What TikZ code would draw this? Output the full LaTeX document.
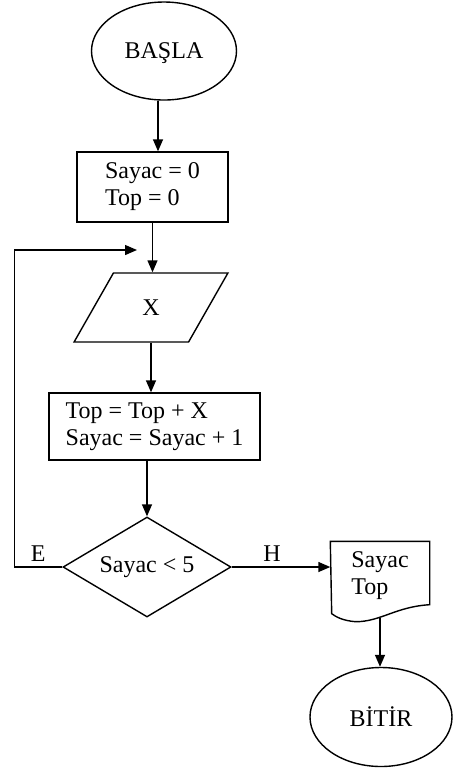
\documentclass[tikz,border=0pt]{standalone}
\usepackage{fontspec}
\setmainfont{Liberation Serif}
\usetikzlibrary{arrows.meta,positioning,shapes.geometric}

\begin{document}
\begin{tikzpicture}[
    x=0.5pt, y=-0.5pt,
    line width=0.7pt,
    font=\fontsize{12}{13.5}\selectfont,
    terminal/.style={ellipse, draw, inner sep=0pt, text depth=0pt},
    process/.style={rectangle, draw, align=left, inner sep=0pt},
    io/.style={trapezium, trapezium left angle=60, trapezium right angle=120,
        trapezium stretches=true, draw, inner sep=0pt},
    decision/.style={diamond, draw, aspect=1.68, inner sep=0pt,
        minimum width=84pt, minimum height=50pt},
    arrow/.style={-{Triangle[length=6pt,width=5pt]}}
]
    \useasboundingbox (0,0) rectangle (453,768);

    \node[terminal, minimum width=72.5pt, minimum height=49pt] (start) at (164,51) {BAŞLA};
    \node[process, minimum width=75.5pt, minimum height=35pt] (init) at (152.5,187) {Sayac = 0\\Top = 0};
    \node[io, minimum width=77pt, minimum height=34.5pt] (input) at (151,307.5) {X};
    \node[process, minimum width=105.5pt, minimum height=33.5pt] (update) at (154.5,426.5) {Top = Top + X\\Sayac = Sayac + 1};
    \node[decision] (check) at (147,567) {Sayac < 5};
    \node[align=left, inner sep=0pt, minimum width=49pt, minimum height=28pt] (result) at (380,576) {Sayac\\Top};
    \node[terminal, minimum width=71pt, minimum height=49.5pt] (stop) at (381,717) {BİTİR};
    \coordinate (back) at (137,250);

    % document shape round the output
    \draw ([yshift=3pt]result.north west) -- ([yshift=3pt]result.north east) -- (result.south east)
        .. controls +(-34,2) and +(25,0) .. ++(-74,17)
        .. controls +(-13,-1) and +(4,3) .. ++(-24,-8) -- cycle;

    \draw[arrow] ([xshift=-3pt]start.south) -- ([xshift=-3pt]start.south |- init.north);
    \draw[arrow] (init.south) -- (init.south |- input.north);
    \draw[arrow] (input.south) -- (input.south |- update.north);
    \draw[arrow] (check.north |- update.south) -- (check.north);
    \draw[arrow] (check.west) -- node[above, inner sep=2.5pt] {E} ++(-48,0) |- (back);
    \draw[arrow] (check.east) -- node[above, inner sep=2.5pt, pos=0.41] {H} (check.east -| result.west);
    \draw[arrow] ([yshift=-6.5pt]result.south) -- (result.south |- stop.north);
\end{tikzpicture}
\end{document}
